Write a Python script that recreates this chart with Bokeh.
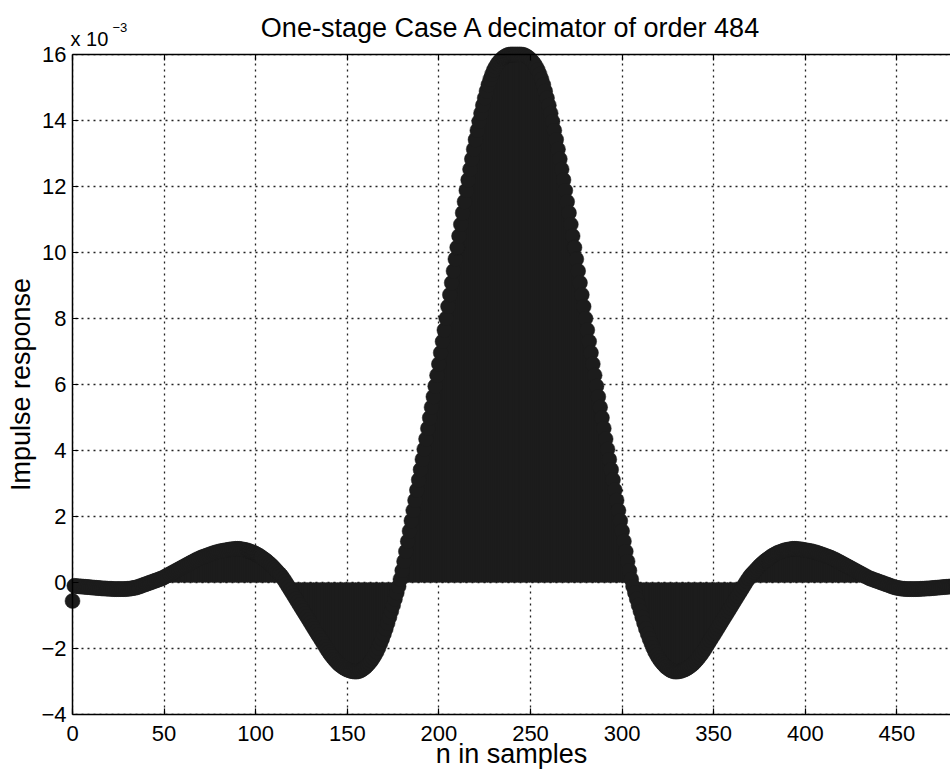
import math
from bokeh.plotting import figure
from bokeh.models import (Range1d, FixedTicker, Label, ColumnDataSource,
                          BoxAnnotation, LinearAxis)
from bokeh.embed import file_html
from bokeh.resources import INLINE

# Impulse response of the one-stage Case A decimator (order 484), in units of 1e-3,
# read from the picture for n = 0 .. 484
h_e3 = [
    -0.56, -0.10, -0.11, -0.11, -0.12, -0.12, -0.13, -0.13, -0.14, -0.14,
    -0.15, -0.15, -0.16, -0.16, -0.17, -0.17, -0.18, -0.18, -0.18, -0.19,
    -0.19, -0.19, -0.20, -0.20, -0.20, -0.20, -0.20, -0.20, -0.20, -0.20,
    -0.19, -0.19, -0.18, -0.17, -0.16, -0.15, -0.13, -0.11, -0.09, -0.07,
    -0.05, -0.03, -0.01, 0.01, 0.03, 0.05, 0.07, 0.09, 0.11, 0.13,
    0.16, 0.19, 0.22, 0.25, 0.28, 0.31, 0.34, 0.37, 0.40, 0.43,
    0.46, 0.49, 0.52, 0.55, 0.58, 0.61, 0.64, 0.67, 0.70, 0.72,
    0.75, 0.77, 0.79, 0.81, 0.83, 0.85, 0.87, 0.89, 0.91, 0.92,
    0.94, 0.95, 0.96, 0.97, 0.98, 0.99, 1.00, 1.01, 1.01, 1.02,
    1.02, 1.02, 1.01, 1.00, 0.99, 0.98, 0.96, 0.94, 0.92, 0.90,
    0.87, 0.84, 0.81, 0.77, 0.73, 0.69, 0.65, 0.60, 0.55, 0.50,
    0.44, 0.38, 0.32, 0.26, 0.20, 0.12, 0.04, -0.05, -0.14, -0.23,
    -0.32, -0.41, -0.50, -0.59, -0.68, -0.77, -0.86, -0.95, -1.04, -1.13,
    -1.22, -1.31, -1.40, -1.49, -1.58, -1.67, -1.76, -1.85, -1.94, -2.03,
    -2.11, -2.19, -2.26, -2.33, -2.39, -2.45, -2.50, -2.54, -2.58, -2.61,
    -2.64, -2.66, -2.68, -2.69, -2.70, -2.70, -2.69, -2.67, -2.64, -2.60,
    -2.56, -2.50, -2.44, -2.37, -2.29, -2.20, -2.10, -1.98, -1.85, -1.71,
    -1.56, -1.40, -1.23, -1.05, -0.87, -0.69, -0.50, -0.31, -0.12, 0.10,
    0.36, 0.64, 0.94, 1.25, 1.56, 1.87, 2.18, 2.49, 2.80, 3.11,
    3.42, 3.73, 4.04, 4.35, 4.67, 4.99, 5.31, 5.63, 5.95, 6.28,
    6.62, 6.96, 7.30, 7.65, 8.00, 8.36, 8.72, 9.08, 9.44, 9.80,
    10.15, 10.50, 10.85, 11.20, 11.54, 11.88, 12.20, 12.52, 12.83, 13.13,
    13.42, 13.70, 13.97, 14.22, 14.46, 14.68, 14.89, 15.08, 15.25, 15.40,
    15.53, 15.63, 15.72, 15.79, 15.85, 15.90, 15.94, 15.97, 15.99, 16.00,
    16.00, 16.00, 16.00,
    16.00, 16.00, 16.00, 15.99, 15.97, 15.94, 15.90,
    15.85, 15.79, 15.72, 15.63, 15.53, 15.40, 15.25, 15.08, 14.89, 14.68,
    14.46, 14.22, 13.97, 13.70, 13.42, 13.13, 12.83, 12.52, 12.20, 11.88,
    11.54, 11.20, 10.85, 10.50, 10.15, 9.80, 9.44, 9.08, 8.72, 8.36,
    8.00, 7.65, 7.30, 6.96, 6.62, 6.28, 5.95, 5.63, 5.31, 4.99,
    4.67, 4.35, 4.04, 3.73, 3.42, 3.11, 2.80, 2.49, 2.18, 1.87,
    1.56, 1.25, 0.94, 0.64, 0.36, 0.10, -0.12, -0.31, -0.50, -0.69,
    -0.87, -1.05, -1.23, -1.40, -1.56, -1.71, -1.85, -1.98, -2.10, -2.20,
    -2.29, -2.37, -2.44, -2.50, -2.56, -2.60, -2.64, -2.67, -2.69, -2.70,
    -2.70, -2.69, -2.68, -2.66, -2.64, -2.61, -2.58, -2.54, -2.50, -2.45,
    -2.39, -2.33, -2.26, -2.19, -2.11, -2.03, -1.94, -1.85, -1.76, -1.67,
    -1.58, -1.49, -1.40, -1.31, -1.22, -1.13, -1.04, -0.95, -0.86, -0.77,
    -0.68, -0.59, -0.50, -0.41, -0.32, -0.23, -0.14, -0.05, 0.04, 0.12,
    0.20, 0.26, 0.32, 0.38, 0.44, 0.50, 0.55, 0.60, 0.65, 0.69,
    0.73, 0.77, 0.81, 0.84, 0.87, 0.90, 0.92, 0.94, 0.96, 0.98,
    0.99, 1.00, 1.01, 1.02, 1.02, 1.02, 1.01, 1.01, 1.00, 0.99,
    0.98, 0.97, 0.96, 0.95, 0.94, 0.92, 0.91, 0.89, 0.87, 0.85,
    0.83, 0.81, 0.79, 0.77, 0.75, 0.72, 0.70, 0.67, 0.64, 0.61,
    0.58, 0.55, 0.52, 0.49, 0.46, 0.43, 0.40, 0.37, 0.34, 0.31,
    0.28, 0.25, 0.22, 0.19, 0.16, 0.13, 0.11, 0.09, 0.07, 0.05,
    0.03, 0.01, -0.01, -0.03, -0.05, -0.07, -0.09, -0.11, -0.13, -0.15,
    -0.16, -0.17, -0.18, -0.19, -0.19, -0.20, -0.20, -0.20, -0.20, -0.20,
    -0.20, -0.20, -0.20, -0.19, -0.19, -0.19, -0.18, -0.18, -0.18, -0.17,
    -0.17, -0.16, -0.16, -0.15, -0.15, -0.14, -0.14, -0.13, -0.13, -0.12,
    -0.12, -0.11, -0.11, -0.10, -0.56,
]
n_samples = list(range(len(h_e3)))

x_ticks = [0, 50, 100, 150, 200, 250, 300, 350, 400, 450]
y_ticks = [-4, -2, 0, 2, 4, 6, 8, 10, 12, 14, 16]
y_tick_text = {-4: "\u22124", -2: "\u22122"}

title_text = "One-stage Case A decimator of order 484"
x_label = "n in samples"
y_label = "Impulse response"
exp_base = "x 10"
exp_power = "\u22123"

FONT = "Liberation Sans"
INK = "#1c1c1c"

# The whole canvas is the plot frame; the axes box (x from 0, y from -4 to 16)
# sits inside it, so markers at the box edges are not cut off.
W, H = 950, 776
BOX_LEFT, BOX_TOP, BOX_BOTTOM = 72, 54, 714      # pixel edges of the axes box
px_x = 91.6 / 50.0                               # pixels per sample
px_y = (BOX_BOTTOM - BOX_TOP) / (y_ticks[-1] - y_ticks[0])
y_lo, y_hi = y_ticks[0], y_ticks[-1]
x_min = -BOX_LEFT / px_x
x_max = (W - BOX_LEFT) / px_x
y_min = y_lo - (H - BOX_BOTTOM) / px_y
y_max = y_hi + BOX_TOP / px_y

p = figure(
    width=W, height=H, title=None,
    output_backend="svg", toolbar_location=None,
    x_range=Range1d(x_min, x_max), y_range=Range1d(y_min, y_max),
    min_border_left=0, min_border_right=0, min_border_top=0, min_border_bottom=0,
)
p.outline_line_color = None
p.background_fill_color = "white"
p.border_fill_color = "white"


def style_axis(ax):
    ax.major_tick_in = 6
    ax.major_tick_out = 0
    ax.minor_tick_in = 0
    ax.minor_tick_out = 0
    ax.axis_line_width = 1.5
    ax.axis_line_color = "black"
    ax.major_tick_line_color = "black"
    ax.major_tick_line_width = 1.2
    ax.major_label_text_font = FONT
    ax.major_label_text_font_size = "22px"
    ax.major_label_text_color = "black"


xa, ya = p.xaxis[0], p.yaxis[0]
style_axis(xa)
style_axis(ya)
xa.ticker = FixedTicker(ticks=x_ticks)
ya.ticker = FixedTicker(ticks=y_ticks)
xa.fixed_location = y_lo
ya.fixed_location = 0
xa.bounds = (0, x_max)
ya.bounds = (y_lo, y_hi)
ya.major_label_overrides = y_tick_text
xa.major_label_standoff = 11
ya.major_label_standoff = 6

top = LinearAxis(ticker=FixedTicker(ticks=x_ticks), fixed_location=y_hi,
                 bounds=(0, x_max))
style_axis(top)
top.major_label_text_color = None
p.add_layout(top, "above")

p.xgrid.ticker = FixedTicker(ticks=x_ticks)
p.ygrid.ticker = FixedTicker(ticks=y_ticks)
for g in (p.xgrid[0], p.ygrid[0]):
    g.grid_line_color = "#222222"
    g.grid_line_dash = "2 4"
    g.grid_line_dash_offset = 3
    g.grid_line_width = 1.3

# keep the dotted grid inside the axes box (white masks reaching past the canvas)
pad_x, pad_y = 20.0, 2.0
masks = [
    dict(left=x_min - pad_x, right=x_max + pad_x, bottom=y_hi, top=y_max + pad_y),
    dict(left=x_min - pad_x, right=x_max + pad_x, bottom=y_min - pad_y, top=y_lo),
    dict(left=x_min - pad_x, right=0, bottom=y_min - pad_y, top=y_max + pad_y),
]
for kw in masks:
    p.add_layout(BoxAnnotation(fill_color="white", fill_alpha=1.0,
                               line_color=None, level="underlay", **kw))

src = ColumnDataSource(dict(n=n_samples, h=h_e3))
p.segment(x0="n", y0=0, x1="n", y1="h", source=src, line_color=INK, line_width=3)
p.scatter(x="n", y="h", source=src, marker="circle", size=15,
          fill_color=INK, line_color=INK, line_width=0.5)

# title, axis labels and the exponent of the y axis
x_mid = x_max / 2
y_mid = (y_lo + y_hi) / 2
p.add_layout(Label(x=x_mid, y=y_hi, text=title_text, y_offset=27,
                   text_align="center", text_baseline="middle",
                   text_font=FONT, text_font_size="27px", text_color="black"))
p.add_layout(Label(x=x_mid, y=y_lo, text=x_label, y_offset=-39,
                   text_align="center", text_baseline="middle",
                   text_font=FONT, text_font_size="27px", text_color="black"))
p.add_layout(Label(x=0, y=y_mid, text=y_label, x_offset=-52, angle=math.pi / 2,
                   text_align="center", text_baseline="middle",
                   text_font=FONT, text_font_size="27px", text_color="black"))
p.add_layout(Label(x=0, y=y_hi, text=exp_base, x_offset=-2, y_offset=16,
                   text_font=FONT, text_font_size="20px", text_color="black",
                   text_baseline="middle"))
p.add_layout(Label(x=0, y=y_hi, text=exp_power, x_offset=40, y_offset=27,
                   text_font=FONT, text_font_size="13px", text_color="black",
                   text_baseline="middle"))

html = file_html(p, INLINE, title=title_text)
open("out.html", "w").write(html)
